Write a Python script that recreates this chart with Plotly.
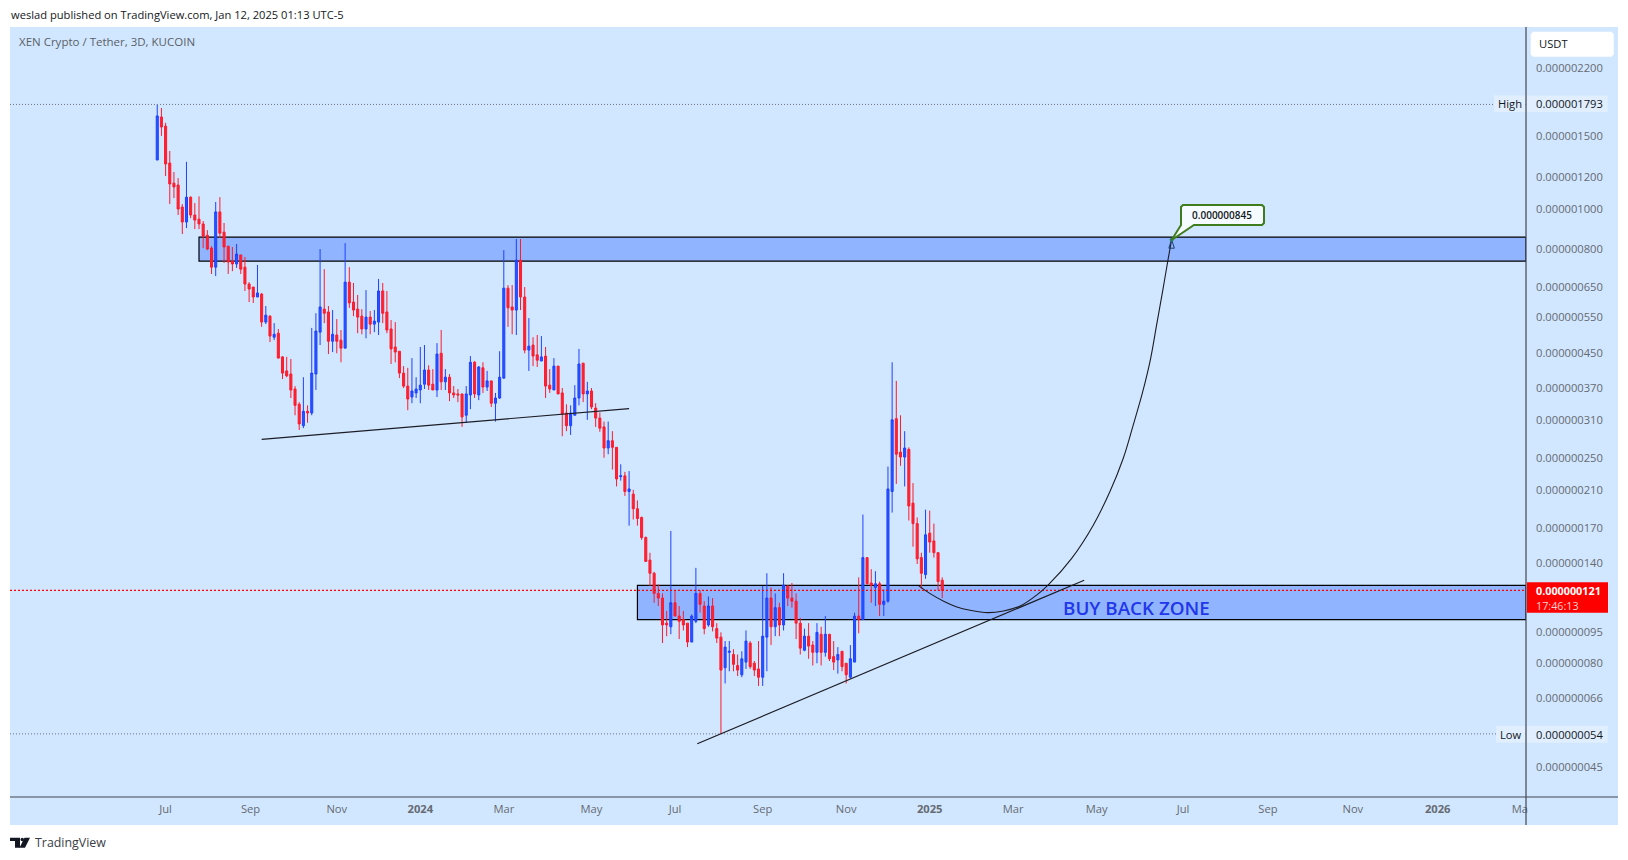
"""XEN / USDT 3D chart, redrawn from a TradingView snapshot."""

import numpy as np
import pandas as pd
import plotly.graph_objects as go

# all prices below are in units of 1e-9 USDT
UNIT = 1e-9
FIRST_BAR = "2023-06-26"

opens = [
    1316, 1672, 1589, 1294, 1157, 1145, 1013, 932, 1070, 969, 947, 922, 866, 806, 725, 986, 881, 815, 750, 738,
    776, 725, 660, 649, 614, 624, 534, 552, 491, 502, 440, 407, 400, 368, 338, 300, 325, 322, 400, 505,
    574, 565, 480, 497, 483, 462, 667, 597, 574, 552, 514, 549, 528, 534, 635, 565,
    514, 465, 454, 402, 374, 352, 360, 366, 378, 409, 378, 366, 449, 383, 393, 360, 358, 358, 318, 356, 427, 356,
    414, 372, 385, 340, 350, 391, 645, 581, 571, 754, 614, 457, 470, 445, 430, 442, 376, 366, 418, 360, 322, 300,
    318, 350, 425, 358, 364, 331, 313, 298, 265, 276, 266, 226, 227, 208,
    205, 189, 180, 161, 142, 132, 118, 115, 100, 98, 112, 104, 102, 100, 90, 101, 118, 110, 99, 110, 97, 92.5,
    78, 85, 84, 79, 75, 80.5, 89.5, 80, 77.5, 74, 92.5, 115, 98, 109, 99, 123, 115, 113, 100, 86, 93, 88.5, 85, 94,
    85, 94, 83, 81.5, 85.5, 80, 74, 80.5, 104, 102, 144, 125, 122, 124.5, 111, 113, 208, 312, 259, 252, 263, 195,
    174, 144, 131, 165, 158, 148, 127,
]
highs = [
    1793, 1758, 1619, 1384, 1231, 1190, 1030, 1303, 1075, 1036, 1075, 937, 891, 815, 1042, 1070, 927, 815, 811, 825,
    776, 767, 667, 649, 734, 628, 584, 555, 531, 514, 442, 440, 435, 374, 342, 393, 336, 517, 561, 802,
    717, 584, 571, 543, 511, 829, 725, 664, 621, 574, 638, 568, 571, 679, 664, 635,
    540, 534, 454, 418, 414, 437, 393, 465, 470, 420, 411, 475, 511, 411, 400, 374, 368, 358, 374, 442, 430, 418,
    427, 407, 385, 360, 454, 797, 656, 656, 848, 848, 649, 546, 491, 497, 494, 465, 411, 437, 418, 370, 338, 336,
    376, 460, 425, 383, 370, 340, 323, 307, 307, 291, 266, 242, 232, 233,
    210, 198, 181, 162, 148, 133, 124, 118, 107, 167, 120, 110, 107, 100, 105, 136, 120, 113, 116, 115, 100, 95,
    90.5, 90.5, 86.5, 84, 85.5, 96, 90.5, 81, 90.5, 123, 132, 122, 118, 112, 132, 123.5, 125, 118, 103, 97, 100,
    90.5, 100, 98, 104, 94, 90.5, 87.5, 85.5, 80, 88.5, 106, 129, 183, 144, 135, 133.5, 126, 120.5, 239, 427, 385,
    318, 291, 266, 218, 180, 148, 188, 187, 174, 148, 129,
]
lows = [
    1316, 1505, 1204, 1030, 1065, 969, 872, 901, 952, 896, 896, 806, 797, 698, 690, 853, 742, 698, 709, 722,
    698, 635, 597, 594, 614, 520, 528, 478, 483, 437, 389, 393, 350, 318, 293, 296, 305, 318, 366, 470,
    531, 447, 452, 449, 427, 462, 578, 552, 502, 499, 488, 499, 505, 497, 531, 502,
    423, 427, 391, 370, 327, 340, 350, 340, 368, 366, 366, 352, 366, 366, 344, 350, 342, 298, 305, 329, 350, 346,
    360, 364, 333, 307, 348, 389, 520, 499, 497, 571, 449, 407, 418, 416, 430, 350, 360, 366, 358, 283, 291, 285,
    318, 336, 342, 310, 329, 298, 290, 251, 256, 235, 214, 221, 203, 172,
    178, 172, 159, 141, 123, 112, 110, 89.5, 93, 94, 104, 91.5, 96, 87.5, 90, 100, 106, 94, 98, 95.5, 89.5, 54,
    71.5, 76.5, 76.5, 74.5, 74, 77.5, 77.5, 74.5, 70.5, 70.5, 76.5, 88.5, 93, 93, 96, 110, 109, 91.5, 84, 85.5,
    82, 79, 80, 79, 83, 81, 77, 75.5, 76.5, 71.5, 73.5, 80.5, 94.5, 102, 124, 112, 110, 104, 104, 112, 185, 217,
    240, 214, 177, 153, 139, 121, 128, 148, 144, 120, 115,
]
closes = [
    1682, 1581, 1287, 1152, 1133, 1002, 932, 1070, 969, 942, 922, 862, 802, 725, 986, 876, 811, 746, 738, 780,
    717, 660, 642, 614, 628, 534, 555, 494, 499, 437, 402, 396, 366, 336, 303, 325, 322, 402, 508, 581,
    561, 480, 499, 480, 462, 667, 594, 571, 549, 514, 549, 528, 537, 635, 561, 511,
    460, 452, 402, 374, 348, 364, 368, 376, 409, 376, 366, 447, 383, 393, 360, 356, 356, 315, 358, 427, 358, 416,
    372, 385, 340, 350, 393, 645, 578, 571, 754, 614, 457, 467, 442, 432, 440, 374, 368, 418, 358, 320, 300, 322,
    350, 423, 358, 364, 333, 313, 296, 265, 276, 266, 223, 227, 208, 211,
    189, 179, 161, 141, 132, 118, 115, 99, 99, 112, 104, 101, 99, 90, 104, 118, 111, 97, 110, 98, 92, 77,
    87.5, 85.5, 79.5, 77, 82, 90.5, 78.5, 77, 74, 93, 115, 98, 109, 99, 123.5, 115, 113, 100, 87, 93, 88, 85, 95,
    85, 94, 82, 80.5, 84, 78.5, 75, 82, 104, 102, 144, 124.5, 123.5, 124.5, 111, 113, 211, 310, 256, 252, 265,
    192, 174, 143, 132, 163.5, 157, 148, 126, 120,
]

price_ticks = [2200, 1500, 1200, 1000, 800, 650, 550, 450, 370, 310, 250, 210, 170, 140, 95, 80, 66, 45]
price_tick_labels = ["0.00000%04d" % v for v in price_ticks]

# TradingView puts a month label on the first bar of that month
month_ticks = ["2023-07-02", "2023-09-01", "2023-11-02", "2024-01-01", "2024-03-01", "2024-05-03", "2024-07-02",
               "2024-09-03", "2024-11-02", "2025-01-01", "2025-03-02", "2025-05-01", "2025-07-02", "2025-09-01",
               "2025-11-01", "2026-01-01", "2026-03-01"]
month_labels = ["Jul", "Sep", "Nov", "<b>2024</b>", "Mar", "May", "Jul", "Sep", "Nov", "<b>2025</b>", "Mar", "May",
                "Jul", "Sep", "Nov", "<b>2026</b>", "Ma"]

view_dates = ["2023-03-12 05:00", "2026-03-05 10:00"]
view_prices = [38, 2759]

high_price = 1793
low_price = 54
last_price = 120
target_price = 845

upper_zone_start, upper_zone = "2023-07-26", [750, 857]
lower_zone_start, lower_zone = "2024-06-05", [102, 123.4]

support_dates = ["2023-09-09", "2024-05-30"]
support_prices = [278, 330]
rising_dates = ["2024-07-18", "2025-04-22"]
rising_prices = [51.1, 127]

arc_dates = ["2024-12-24", "2025-01-01", "2025-01-11", "2025-01-20", "2025-01-30", "2025-02-12", "2025-02-23",
             "2025-03-07", "2025-03-19", "2025-03-27", "2025-04-13", "2025-04-28 12:00", "2025-05-10 12:00",
             "2025-05-20", "2025-05-27 05:00", "2025-06-03", "2025-06-08 17:00", "2025-06-13",
             "2025-06-17 07:00", "2025-06-21 10:00", "2025-06-23 19:00"]
arc_prices = [123.2, 118, 113, 109.6, 107.4, 106, 107, 110, 117, 123.5, 143.4, 172.5, 208,
              250, 301, 362, 436, 525, 633, 762, 845]

FONT = "Open Sans"
PANEL = "#d1e7ff"
ZONE = "#90b4ff"
BLUE = "#2040ff"
RED = "#ff1a2b"

# the page has a default 8px body margin, so the figure sits at (8, 8)
PLOT_LEFT, PLOT_RIGHT, PLOT_TOP, PLOT_BOTTOM = 10, 1526, 27, 797


def px(x):
    return (x - PLOT_LEFT) / (PLOT_RIGHT - PLOT_LEFT)


def py(y):
    return (PLOT_BOTTOM - y) / (PLOT_BOTTOM - PLOT_TOP)


def rect(x0, y0, x1, y1, fill, layer="above"):
    return dict(type="rect", xref="paper", yref="paper", x0=px(x0), x1=px(x1), y0=py(y0), y1=py(y1),
                fillcolor=fill, line=dict(width=0), layer=layer)


def poly(points, fill, line=None, layer="above"):
    path = "M " + " L ".join(f"{px(x):.5f},{py(y):.5f}" for x, y in points) + " Z"
    return dict(type="path", xref="paper", yref="paper", path=path, fillcolor=fill,
                line=line or dict(width=0), layer=layer)


def label(x, y, text, size=11.2, color="#131722", anchor="left", weight=None):
    return dict(xref="paper", yref="paper", x=px(x), y=py(y), text=text, showarrow=False,
                xanchor=anchor, yanchor="middle", borderpad=0,
                font=dict(family=FONT, size=size, color=color, weight=weight))


def prices(values):
    return np.asarray(values, dtype=float) * UNIT


def level_line(price, color, width=1, dash="1px,2px"):
    return go.Scatter(x=view_dates, y=prices([price, price]), mode="lines", hoverinfo="skip",
                      line=dict(color=color, width=width, dash=dash))


def zone_shape(start, bounds):
    # behind the candles; shapes on a log axis take plain data values
    return dict(type="rect", xref="x", yref="y", x0=start, x1=view_dates[1],
                y0=bounds[0] * UNIT, y1=bounds[1] * UNIT, fillcolor=ZONE,
                line=dict(color="black", width=1.2), layer="below")


def black_line(dates, values, width=1.2, shape="linear"):
    return go.Scatter(x=dates, y=prices(values), mode="lines", hoverinfo="skip",
                      line=dict(color="#1c1c24", width=width, shape=shape))


bar_dates = pd.date_range(FIRST_BAR, periods=len(opens), freq="3D")

fig = go.Figure()
fig.add_trace(level_line(high_price, "#70757f"))
fig.add_trace(level_line(low_price, "#70757f"))
fig.add_trace(go.Candlestick(
    x=bar_dates, open=prices(opens), high=prices(highs), low=prices(lows), close=prices(closes),
    whiskerwidth=0,
    increasing=dict(line=dict(color=BLUE, width=1), fillcolor="#2257ff"),
    decreasing=dict(line=dict(color=RED, width=1), fillcolor="#ff2230"),
))
fig.add_trace(level_line(last_price, "#ff0000", 1.3, "2px,2px"))
fig.add_trace(black_line(support_dates, support_prices))
fig.add_trace(black_line(rising_dates, rising_prices))
fig.add_trace(black_line(arc_dates, arc_prices, 1.1, "spline"))
fig.add_trace(go.Scatter(x=arc_dates[-1:], y=prices([target_price]), mode="markers", hoverinfo="skip",
                         marker=dict(symbol="arrow-open", size=9, color="#1c3f6e", line=dict(width=1, color="#1c3f6e"))))
fig.add_trace(go.Scatter(x=arc_dates[-1:], y=prices([target_price]), mode="markers", hoverinfo="skip",
                         marker=dict(symbol="circle", size=4, color="#2b7f7a")))

shapes = [
    rect(10, 27, 1618, 825, PANEL, layer="below"),
    zone_shape(upper_zone_start, upper_zone),
    zone_shape(lower_zone_start, lower_zone),
    rect(1527, 95.5, 1607.7, 112, "#e0eefe"),
    rect(1494, 95.5, 1525.5, 112, "#e0eefe"),
    rect(1527, 726, 1607.7, 742.7, "#e0eefe"),
    rect(1496, 726, 1525.5, 742.7, "#e0eefe"),
    rect(1527, 582.3, 1608, 612.7, "#ff0000"),
    rect(10, 796.4, 1618, 797.6, "#434651"),
    rect(1525.4, 27, 1526.6, 825, "#434651"),
    # USDT button
    poly([(1533, 31.7), (1611.5, 31.7), (1613.7, 34), (1613.7, 54.5), (1611.5, 56.7), (1533, 56.7),
          (1530.7, 54.5), (1530.7, 34)], "white"),
    # target callout
    poly([(1183, 205), (1262, 205), (1264, 207), (1264, 223), (1262, 225), (1194, 225), (1171.7, 240),
          (1181, 225), (1181, 207)], "#f5fbff", dict(color="#3f7d1c", width=2)),
    # TradingView logo
    poly([(10, 837.7), (20, 837.7), (20, 847.7), (15, 847.7), (15, 841), (10, 841)], "#131722"),
    poly([(30, 837.7), (25, 847.7), (19.5, 847.7), (24.5, 837.7)], "#131722"),
    dict(type="circle", xref="paper", yref="paper", x0=px(20.5), x1=px(24), y0=py(837.7), y1=py(841.2),
         fillcolor="#131722", line=dict(width=0)),
]

annotations = [
    label(10, 15, "weslad published on TradingView.com, Jan 12, 2025 01:13 UTC-5", 11.15, "#131722"),
    label(17.5, 41.7, "XEN Crypto / Tether, 3D, KUCOIN", 11.5, "#5b5f68"),
    label(1538, 44, "USDT", 11.2),
    label(1535, 103.6, "0.00000%04d" % high_price, 11.2),
    label(1509.5, 103.6, "High", 11.2, anchor="center"),
    label(1535, 734.7, "0.00000%04d" % low_price, 11.2),
    label(1511, 734.7, "Low", 11.2, anchor="center"),
    label(1535, 590.7, "<b>0.000000121</b>", 10.8, "white"),
    label(1535, 605, "17:46:13", 10.8, "#ffd0d0"),
    label(1222, 215, "0.000000845", 10, "#131722", anchor="center", weight=600),
    label(1136, 608.3, "BUY BACK ZONE", 18.8, "#2236ea", anchor="center", weight=600),
    label(34, 842.7, "TradingView", 12.4, "#3a3d45"),
]

fig.update_layout(
    width=1612, height=844,
    margin=dict(l=2, r=94, t=19, b=55),
    paper_bgcolor="white", plot_bgcolor=PANEL,
    showlegend=False, boxgap=0.3,
    font=dict(family=FONT, size=11.2, color="#666a72"),
    shapes=shapes, annotations=annotations,
    xaxis=dict(type="date", range=view_dates, rangeslider=dict(visible=False), showgrid=False, zeroline=False,
               showline=False, ticks="", tickmode="array", tickvals=month_ticks, ticktext=month_labels,
               ticklabelstandoff=4),
    yaxis=dict(type="log", side="right", range=list(np.log10(prices(view_prices))), showgrid=False, zeroline=False,
               showline=False, ticks="", tickmode="array", tickvals=prices(price_ticks), ticktext=price_tick_labels,
               ticklabelstandoff=9),
)

fig.write_html("out.html")
